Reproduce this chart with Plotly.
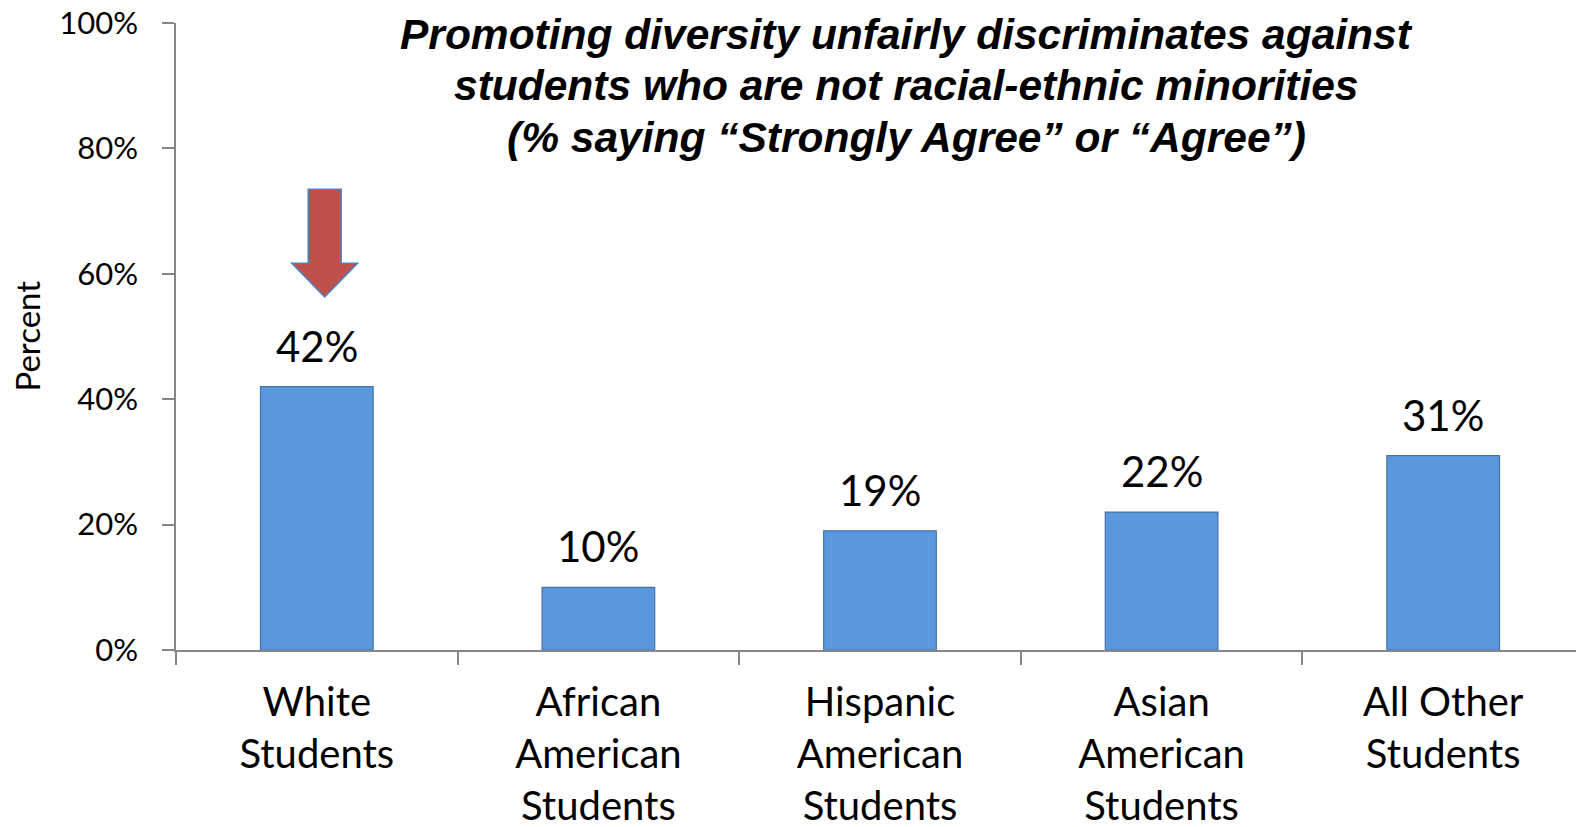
import plotly.graph_objects as go

categories = ["White<br>Students", "African<br>American<br>Students", "Hispanic<br>American<br>Students",
              "Asian<br>American<br>Students", "All Other<br>Students"]
values = [42, 10, 19, 22, 31]
y_ticks = [0, 20, 40, 60, 80, 100]
y_ticklabels = ["0%", "20%", "40%", "60%", "80%", "100%"]
title_lines = ["Promoting diversity unfairly discriminates against",
               "students who are not racial-ethnic minorities",
               "(% saying \u201cStrongly Agree\u201d or \u201cAgree\u201d)"]

BODY = "Lato, Carlito, Calibri, sans-serif"
AXIS = "#868686"

fig = go.Figure()
fig.add_trace(go.Bar(
    x=categories, y=values, width=0.4,
    marker=dict(color="#5B97DC", line=dict(color="#4573A8", width=1.2)),
    hoverinfo="skip",
))

for c, v in zip(categories, values):
    fig.add_annotation(x=c, y=v, xref="x", yref="y", text=f"{v}%", showarrow=False,
                       yanchor="bottom", yshift=14,
                       font=dict(family=BODY, size=42, color="black"))

title_y = [34, 86, 137]
for line, yy in zip(title_lines, title_y):
    fig.add_annotation(xref="paper", yref="paper", x=(906 - 176) / 1408, y=1 - (yy - 23) / 627,
                       yanchor="middle", xanchor="center", text=f"<b><i>{line}</i></b>", showarrow=False,
                       font=dict(family="Liberation Sans, Arial, sans-serif", size=42.5, color="black"))

fig.add_annotation(xref="paper", yref="paper", x=0, y=0.5, xshift=-150, text="Percent",
                   textangle=-90, showarrow=False, xanchor="center", yanchor="middle",
                   font=dict(family=BODY, size=33, color="black"))

# highlight arrow pointing to the first bar
cx, sw, hw = 0.028, 0.0585, 0.117
top, neck, tip = 73.5, 61.7, 56.3
path = (f"M {cx - sw} {top} L {cx + sw} {top} L {cx + sw} {neck} L {cx + hw} {neck} "
        f"L {cx} {tip} L {cx - hw} {neck} L {cx - sw} {neck} Z")
fig.add_shape(type="path", path=path, xref="x", yref="y",
              fillcolor="#C0504D", line=dict(color="#4F81BD", width=1.5))

fig.update_layout(
    width=1576, height=819,
    margin=dict(l=168, r=0, t=15, b=177, autoexpand=False),
    plot_bgcolor="white", paper_bgcolor="white",
    showlegend=False,
    font=dict(family=BODY, color="black"),
)
fig.update_xaxes(
    type="category", range=[-0.5, 4.5], showline=True, linecolor=AXIS, linewidth=1.5,
    ticks="outside", tickson="boundaries", ticklen=13, tickcolor=AXIS, tickwidth=1.5,
    tickfont=dict(family=BODY, size=40, color="black"), showgrid=False, zeroline=False,
    ticklabelstandoff=16, automargin=False, ticklabeloverflow="allow",
)
fig.update_yaxes(
    range=[0, 100], tickvals=y_ticks, ticktext=y_ticklabels,
    showline=True, linecolor=AXIS, linewidth=1.5,
    ticks="outside", ticklen=12, tickcolor=AXIS, tickwidth=1.5,
    tickfont=dict(family=BODY, size=31, color="black"), showgrid=False, zeroline=False,
    ticklabelstandoff=18, automargin=False, ticklabeloverflow="allow",
)

fig.write_html("out.html")
